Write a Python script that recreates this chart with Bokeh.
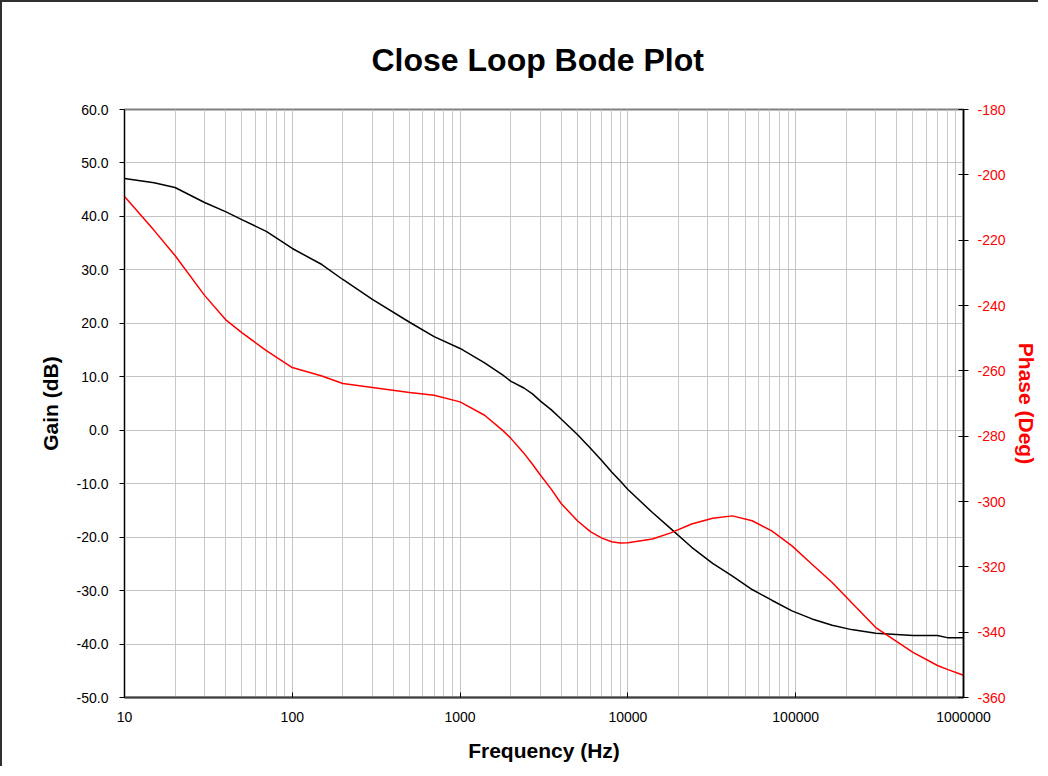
from bokeh.plotting import figure
from bokeh.models import (Range1d, LinearAxis, FixedTicker, NumeralTickFormatter, Title)
from bokeh.embed import file_html
from bokeh.resources import INLINE

freq = [10, 15, 20, 30, 40, 50, 70, 100, 150, 200, 300, 500, 700, 1000, 1400, 1800,
        2000, 2400, 2700, 3000, 3500, 4000, 5000, 6000, 7000, 8000, 9000, 10000, 14000,
        18000, 24000, 32000, 42000, 55000, 72000, 95000, 125000, 165000, 215000, 300000,
        500000, 700000, 800000, 1000000]
gain_db = [47.1, 46.3, 45.4, 42.6, 40.9, 39.4, 37.2, 34.0, 31.0, 28.2, 24.5, 20.2, 17.5,
           15.3, 12.6, 10.3, 9.2, 7.9, 6.8, 5.5, 3.8, 2.1, -0.8, -3.4, -5.7, -7.8, -9.5,
           -11.1, -15.4, -18.4, -21.9, -24.9, -27.3, -29.8, -31.8, -33.8, -35.3, -36.5,
           -37.3, -38.0, -38.4, -38.4, -38.8, -38.8]
phase_deg = [-206.6, -217.0, -224.7, -236.9, -244.3, -248.3, -253.8, -259.0, -261.6,
             -263.9, -265.1, -266.6, -267.5, -269.5, -273.6, -278.3, -280.6, -285.2,
             -288.6, -291.8, -296.3, -300.6, -305.9, -309.3, -311.2, -312.3, -312.7,
             -312.6, -311.5, -309.6, -306.9, -305.1, -304.4, -305.9, -309.0, -313.6,
             -319.2, -324.8, -330.9, -338.6, -346.2, -350.2, -351.4, -353.2]

x_ticks = [10, 100, 1000, 10000, 100000, 1000000]
gain_ticks = [-50, -40, -30, -20, -10, 0, 10, 20, 30, 40, 50, 60]
phase_ticks = [-360, -340, -320, -300, -280, -260, -240, -220, -200, -180]

FONT = "Liberation Sans"

p = figure(width=1038, height=766, x_axis_type="log",
           x_range=Range1d(10, 1000000), y_range=Range1d(-50, 60),
           output_backend="svg", toolbar_location=None,
           min_border_left=122, min_border_right=76,
           min_border_top=107, min_border_bottom=71)
p.background_fill_color = "white"
p.border_fill_color = "white"
p.outline_line_color = "#808080"
p.outline_line_width = 2
p.styles = {"border-left": "2px solid #303030", "border-top": "2px solid #303030"}

p.title = Title(text="Close Loop Bode Plot", align="left", offset=247,
                text_font=FONT, text_font_size="32px", text_font_style="bold",
                text_color="black", standoff=63)

minor = [m * d for d in x_ticks[:-1] for m in range(2, 10)]

# x axis
xa = p.xaxis[0]
xa.ticker = FixedTicker(ticks=x_ticks, minor_ticks=minor)
xa.formatter = NumeralTickFormatter(format="0")
xa.axis_label = "Frequency (Hz)"
xa.axis_label_text_font = FONT
xa.axis_label_text_font_size = "21px"
xa.axis_label_text_font_style = "bold"
xa.axis_label_text_color = "black"
xa.axis_label_standoff = 14
xa.major_label_text_font = FONT
xa.major_label_text_font_size = "14px"
xa.major_label_text_color = "black"
xa.major_label_standoff = 10
xa.major_tick_in = 5
xa.major_tick_out = 0
xa.major_tick_line_color = "black"
xa.minor_tick_line_color = None
xa.axis_line_color = "#404040"
xa.axis_line_width = 2

# left axis
ya = p.yaxis[0]
ya.ticker = FixedTicker(ticks=gain_ticks)
ya.formatter = NumeralTickFormatter(format="0.0")
ya.axis_label = "Gain (dB)"
ya.axis_label_text_font = FONT
ya.axis_label_text_font_size = "21px"
ya.axis_label_text_font_style = "bold"
ya.axis_label_text_color = "black"
ya.axis_label_standoff = 12
ya.major_label_text_font = FONT
ya.major_label_text_font_size = "14px"
ya.major_label_text_color = "black"
ya.major_label_standoff = 11
ya.major_tick_in = 0
ya.major_tick_out = 5
ya.major_tick_line_color = "black"
ya.minor_tick_line_color = None
ya.axis_line_color = "black"
ya.axis_line_width = 1

# right axis
p.extra_y_ranges = {"phase": Range1d(-360, -180)}
ra = LinearAxis(y_range_name="phase")
ra.ticker = FixedTicker(ticks=phase_ticks)
ra.formatter = NumeralTickFormatter(format="0")
ra.axis_label = "Phase (Deg)"
ra.axis_label_text_font = FONT
ra.axis_label_text_font_size = "21px"
ra.axis_label_text_font_style = "bold"
ra.axis_label_text_color = "#ff0000"
ra.axis_label_standoff = 6
ra.major_label_text_font = FONT
ra.major_label_text_font_size = "14px"
ra.major_label_text_color = "#ff0000"
ra.major_label_standoff = 9
ra.major_tick_in = 5
ra.major_tick_out = 5
ra.major_tick_line_color = "black"
ra.minor_tick_line_color = None
ra.axis_line_color = "black"
ra.axis_line_width = 1.5
p.add_layout(ra, "right")

# grids
p.xgrid.ticker = FixedTicker(ticks=x_ticks, minor_ticks=minor)
p.xgrid.grid_line_color = "#c4c4c4"
p.xgrid.minor_grid_line_color = "#c8c8c8"
p.ygrid.ticker = FixedTicker(ticks=gain_ticks)
p.ygrid.grid_line_color = "#c4c4c4"

p.line(freq, gain_db, line_color="black", line_width=1.5)
p.line(freq, phase_deg, line_color="#ff0000", line_width=1.5, y_range_name="phase")

open("out.html", "w").write(file_html(p, INLINE))
